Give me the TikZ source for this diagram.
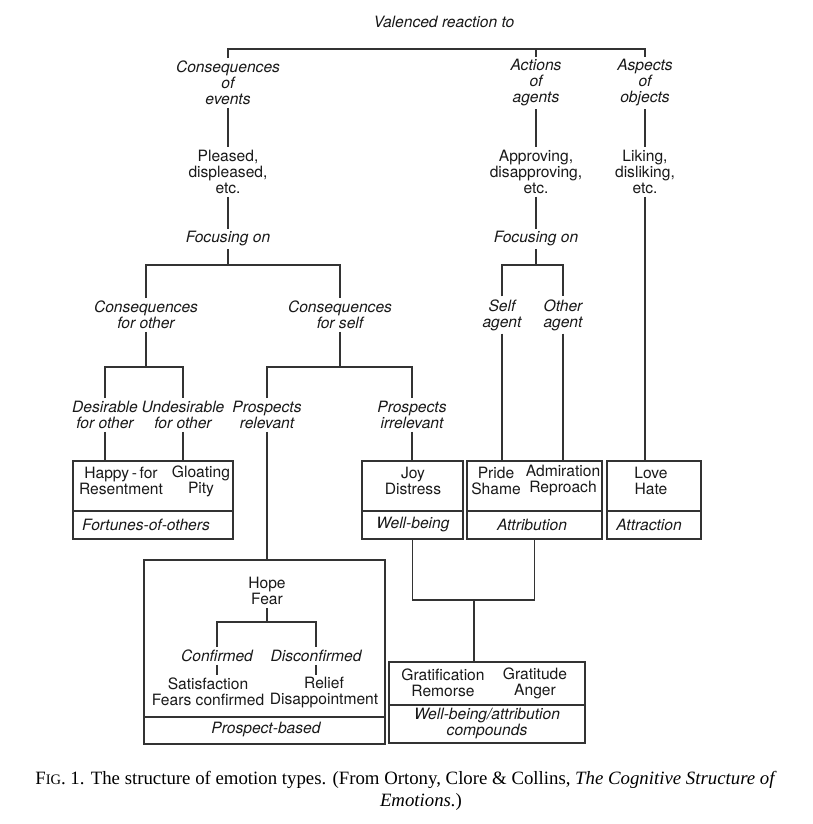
\documentclass[tikz,border=0pt]{standalone}
\usepackage{fontspec}
\setmainfont{Liberation Serif}
\newfontfamily\heros{TeX Gyre Heros}
\begin{document}
\begin{tikzpicture}[x=1pt,y=-1pt,
  every node/.style={inner sep=0pt, outer sep=0pt},
  lab/.style={font=\heros\itshape\fontsize{15.6}{16}\selectfont, align=center, inner ysep=3pt, text=black!90},
  txt/.style={font=\heros\fontsize{15.6}{16}\selectfont, align=center, inner ysep=3pt, text=black!90},
  boxtxt/.style={font=\heros\fontsize{15.6}{16}\selectfont, align=center, text=black!90},
  ln/.style={line width=1.5pt, draw=black!80},
  framebox/.style={draw=black!80, line width=1.5pt, anchor=north west, minimum width=#1}
]
\useasboundingbox (0,0) rectangle (813,824);
\fill[white] (0,0) rectangle (813,824);

% top level
\node[lab] (title) at (444,22) {Valenced reaction to};
\node[lab] (ev) at (228,83) {Consequences\\of\\events};
\node[lab] (ag) at (536,83) {Actions\\of\\agents};
\node[lab] (ob) at (645,83) {Aspects\\of\\objects};
\coordinate (j0) at (228,49);
\draw[ln] (ev.north) |- (j0) -| (ob.north);
\draw[ln] (ag.north) -- (ag.north |- j0);

% second level
\node[txt] (pl) at (228,172) {Pleased,\\displeased,\\etc.};
\node[txt] (ap) at (536,172) {Approving,\\disapproving,\\etc.};
\node[txt] (li) at (645,172) {Liking,\\disliking,\\etc.};
\draw[ln] (ev.south) -- (pl.north);
\draw[ln] (ag.south) -- (ap.north);
\draw[ln] (ob.south) -- (li.north);

\node[lab] (fo1) at (228,239) {Focusing on};
\node[lab] (fo2) at (536,239) {Focusing on};
\draw[ln] (pl.south) -- (fo1.north);
\draw[ln] (ap.south) -- (fo2.north);

% focusing branches
\node[lab] (co) at (146,315) {Consequences\\for other};
\node[lab] (cs) at (340,315) {Consequences\\for self};
\node[lab] (sa) at (502,315) {Self\\agent};
\node[lab] (oa) at (563,315) {Other\\agent};
\coordinate (j1) at (228,265);
\coordinate (j4) at (536,265);
\draw[ln] (fo1.south) -- (j1);
\draw[ln] (co.north) |- (j1) -| (cs.north);
\draw[ln] (fo2.south) -- (j4);
\draw[ln] (sa.north) |- (j4) -| (oa.north);

% third branches
\node[lab] (de) at (105,415) {Desirable\\for other};
\node[lab] (un) at (183,415) {Undesirable\\for other};
\node[lab] (pr) at (267,415) {Prospects\\relevant};
\node[lab] (pi) at (412,415) {Prospects\\irrelevant};
\coordinate (j2) at (146,367);
\coordinate (j3) at (340,367);
\draw[ln] (co.south) -- (j2);
\draw[ln] (de.north) |- (j2) -| (un.north);
\draw[ln] (cs.south) -- (j3);
\draw[ln] (pr.north) |- (j3) -| (pi.north);

% boxes row
\node[framebox=160pt, minimum height=78pt] (fob) at (73,461) {};
\node[framebox=101pt, minimum height=78pt] (wbb) at (362,461) {};
\node[framebox=135pt, minimum height=78pt] (atb) at (467,461) {};
\node[framebox=94pt, minimum height=78pt] (arb) at (607,461) {};
\draw[ln] (fob.west |- 0,511) -- (fob.east |- 0,511);
\draw[ln] (wbb.west |- 0,511) -- (wbb.east |- 0,511);
\draw[ln] (atb.west |- 0,511) -- (atb.east |- 0,511);
\draw[ln] (arb.west |- 0,511) -- (arb.east |- 0,511);

\node[boxtxt] (hr) at (121,481) {Happy\,-\,for\\Resentment};
\node[boxtxt] (gp) at (201,481) {Gloating\\Pity};
\node[lab, inner ysep=0pt] (fol) at (146,525) {Fortunes-of-others};
\node[boxtxt] (jd) at (413,481) {Joy\\Distress};
\node[lab, inner ysep=0pt] (wbl) at (413,525) {Well-being};
\node[boxtxt] (ps) at (496,481) {Pride\\Shame};
\node[boxtxt] (ar) at (563,481) {Admiration\\Reproach};
\node[lab, inner ysep=0pt] (atl) at (532,525) {Attribution};
\node[boxtxt] (lh) at (651,481) {Love\\Hate};
\node[lab, inner ysep=0pt] (arl) at (649,525) {Attraction};

\draw[ln] (de.south) -- (de.south |- fob.north);
\draw[ln] (un.south) -- (un.south |- fob.north);
\draw[ln] (pi.south) -- (pi.south |- wbb.north);
\draw[ln] (sa.south) -- (sa.south |- atb.north);
\draw[ln] (oa.south) -- (oa.south |- atb.north);
\draw[ln] (li.south) -- (li.south |- arb.north);

% prospect-based box
\node[framebox=241pt, minimum height=184pt] (pbb) at (144,560) {};
\draw[ln] (pbb.west |- 0,717) -- (pbb.east |- 0,717);
\draw[ln] (pr.south) -- (pr.south |- pbb.north);
\node[boxtxt, inner ysep=3pt] (hf) at (267,591) {Hope\\Fear};
\node[lab] (cf) at (217,656) {Confirmed};
\node[lab] (dc) at (316,656) {Disconfirmed};
\coordinate (j6) at (267,622);
\draw[ln] (hf.south) -- (j6);
\draw[ln] (cf.north) |- (j6) -| (dc.north);
\node[boxtxt, inner ysep=3pt] (sat) at (208,692) {Satisfaction\\Fears confirmed};
\node[boxtxt, inner ysep=3pt] (rel) at (324,692) {Relief\\Disappointment};
\draw[ln] (cf.south) -- (cf.south |- sat.north);
\draw[ln] (dc.south) -- (dc.south |- sat.north);
\node[lab, inner ysep=0pt] (pbl) at (266,729) {Prospect-based};

% compounds box
\node[framebox=196pt, minimum height=81pt] (cpb) at (389,662) {};
\draw[ln] (cpb.west |- 0,705) -- (cpb.east |- 0,705);
\coordinate (j5) at (474,600);
\draw[ln] (wbb.south) |- (j5) -| (atb.south);
\draw[ln] (j5) -- (j5 |- cpb.north);
\node[boxtxt] (gr) at (443,683) {Gratification\\Remorse};
\node[boxtxt] (ga) at (535,683) {Gratitude\\Anger};
\node[lab, inner ysep=0pt, font=\heros\itshape\fontsize{15.6}{14.5}\selectfont] (cpl) at (487,723.5) {Well-being/attribution\\compounds};

% caption
\node[align=center, font=\fontsize{18.8}{22}\selectfont] (cap) at (406,791) {F{\fontsize{14.5}{22}\selectfont IG}. 1. The structure of emotion types. (From Ortony, Clore \& Collins, \textit{The Cognitive Structure of}\\ \hspace*{30pt}\textit{Emotions.})};
\end{tikzpicture}
\end{document}
